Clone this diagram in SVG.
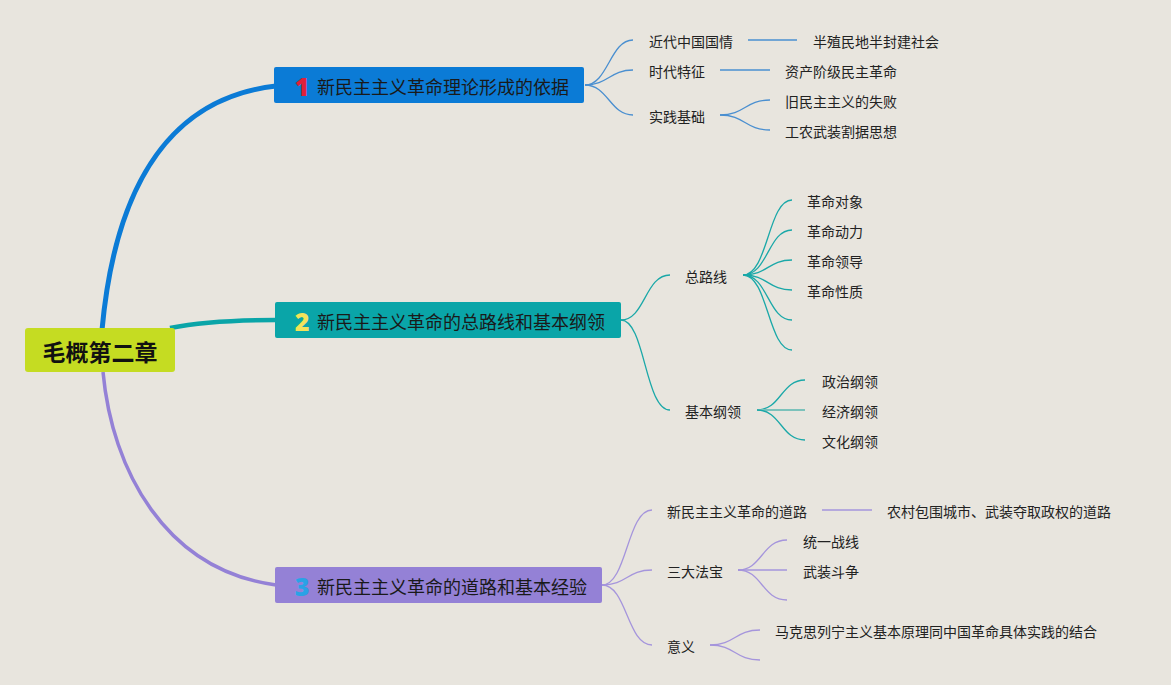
<svg xmlns="http://www.w3.org/2000/svg" width="1171" height="685" viewBox="0 0 1171 685">
<style>
text{font-family:"Noto Sans CJK SC","Noto Sans",sans-serif;fill:#222;dominant-baseline:central}
.t{font-size:14px}
.b{font-size:18px;fill:#1a1a1a}
.n{font-size:25px;font-weight:900;font-family:"Noto Sans","Liberation Sans",sans-serif}
.c1{fill:none;stroke:#4a8fd0;stroke-width:1.3}
.c2{fill:none;stroke:#1aa8a8;stroke-width:1.3}
.c3{fill:none;stroke:#a595dc;stroke-width:1.3}
</style>
<rect width="1171" height="685" fill="#e8e5de"/>
<g id="connectors">
<path d="M102,330 C112,220 150,100 276,86" fill="none" stroke="#0b7bd6" stroke-width="5"/>
<path d="M170,328 Q210,320 276,320" fill="none" stroke="#0aa5a8" stroke-width="4.5"/>
<path d="M103,372 C112,470 165,570 276,585" fill="none" stroke="#9481d6" stroke-width="3.5"/>
<path class="c1" d="M585,85 C608,85 610,40 633,40"/>
<path class="c1" d="M585,85 C608,85 610,70 633,70"/>
<path class="c1" d="M585,85 C608,85 610,115 633,115"/>
<path class="c1" d="M748,40 H797"/>
<path class="c1" d="M720,70 H770"/>
<path class="c1" d="M720,115 C745,115 745,100 770,100"/>
<path class="c1" d="M720,115 C745,115 745,130 770,130"/>
<path class="c2" d="M621,320 C645,320 645,275 670,275"/>
<path class="c2" d="M621,320 C645,320 645,410 670,410"/>
<path class="c2" d="M743,275 C768,275 768,200 792,200"/>
<path class="c2" d="M743,275 C768,275 768,230 792,230"/>
<path class="c2" d="M743,275 C768,275 768,260 792,260"/>
<path class="c2" d="M743,275 C768,275 768,290 792,290"/>
<path class="c2" d="M743,275 C768,275 768,320 792,320"/>
<path class="c2" d="M743,275 C768,275 768,350 792,350"/>
<path class="c2" d="M757,410 C781,410 781,380 805,380"/>
<path d="M757,410 H805" fill="none" stroke="#7cc2bb" stroke-width="2"/>
<path class="c2" d="M757,410 C781,410 781,440 805,440"/>
<path class="c3" d="M602,585 C627,585 627,510 652,510"/>
<path class="c3" d="M602,585 C627,585 627,570 652,570"/>
<path class="c3" d="M602,585 C627,585 627,645 652,645"/>
<path class="c3" d="M822,510 H872"/>
<path class="c3" d="M738,570 C762,570 762,540 787,540"/>
<path class="c3" d="M738,570 H787"/>
<path class="c3" d="M738,570 C762,570 762,600 787,600"/>
<path class="c3" d="M710,645 C735,645 735,630 760,630"/>
<path class="c3" d="M710,645 C735,645 735,660 760,660"/>
</g>
<g id="root">
<rect x="25" y="328" width="150" height="44" rx="3" fill="#c5dc22"/>
<text x="100" y="351" text-anchor="middle" style="font-size:23px;font-weight:bold;fill:#111">毛概第二章</text>
</g>
<g id="b1">
<rect x="274" y="67" width="310" height="36" rx="2" fill="#0b7bd6"/>
<text class="n" x="302" y="86" text-anchor="middle" style="fill:#e0203a">1</text>
<text class="b" x="317" y="86">新民主主义革命理论形成的依据</text>
</g>
<g id="b2">
<rect x="275" y="302" width="346" height="36" rx="2" fill="#0aa5a8"/>
<text class="n" x="302" y="321" text-anchor="middle" style="fill:#f2e35a">2</text>
<text class="b" x="317" y="321">新民主主义革命的总路线和基本纲领</text>
</g>
<g id="b3">
<rect x="275" y="567" width="327" height="36" rx="2" fill="#9481d6"/>
<text class="n" x="302" y="586" text-anchor="middle" style="fill:#2aa2e6">3</text>
<text class="b" x="317" y="586">新民主主义革命的道路和基本经验</text>
</g>
<g id="n1a"><text class="t" x="649" y="41">近代中国国情</text></g>
<g id="n1a1"><text class="t" x="813" y="41">半殖民地半封建社会</text></g>
<g id="n1b"><text class="t" x="649" y="71">时代特征</text></g>
<g id="n1b1"><text class="t" x="785" y="71">资产阶级民主革命</text></g>
<g id="n1c"><text class="t" x="649" y="116">实践基础</text></g>
<g id="n1c1"><text class="t" x="785" y="101">旧民主主义的失败</text></g>
<g id="n1c2"><text class="t" x="785" y="131">工农武装割据思想</text></g>
<g id="n2a"><text class="t" x="685" y="276">总路线</text></g>
<g id="n2a1"><text class="t" x="807" y="201">革命对象</text></g>
<g id="n2a2"><text class="t" x="807" y="231">革命动力</text></g>
<g id="n2a3"><text class="t" x="807" y="261">革命领导</text></g>
<g id="n2a4"><text class="t" x="807" y="291">革命性质</text></g>
<g id="n2b"><text class="t" x="685" y="411">基本纲领</text></g>
<g id="n2b1"><text class="t" x="822" y="381">政治纲领</text></g>
<g id="n2b2"><text class="t" x="822" y="411">经济纲领</text></g>
<g id="n2b3"><text class="t" x="822" y="441">文化纲领</text></g>
<g id="n3a"><text class="t" x="667" y="511">新民主主义革命的道路</text></g>
<g id="n3a1"><text class="t" x="887" y="511">农村包围城市、武装夺取政权的道路</text></g>
<g id="n3b"><text class="t" x="667" y="571">三大法宝</text></g>
<g id="n3b1"><text class="t" x="803" y="541">统一战线</text></g>
<g id="n3b2"><text class="t" x="803" y="571">武装斗争</text></g>
<g id="n3c"><text class="t" x="667" y="646">意义</text></g>
<g id="n3c1"><text class="t" x="775" y="631">马克思列宁主义基本原理同中国革命具体实践的结合</text></g>
</svg>
